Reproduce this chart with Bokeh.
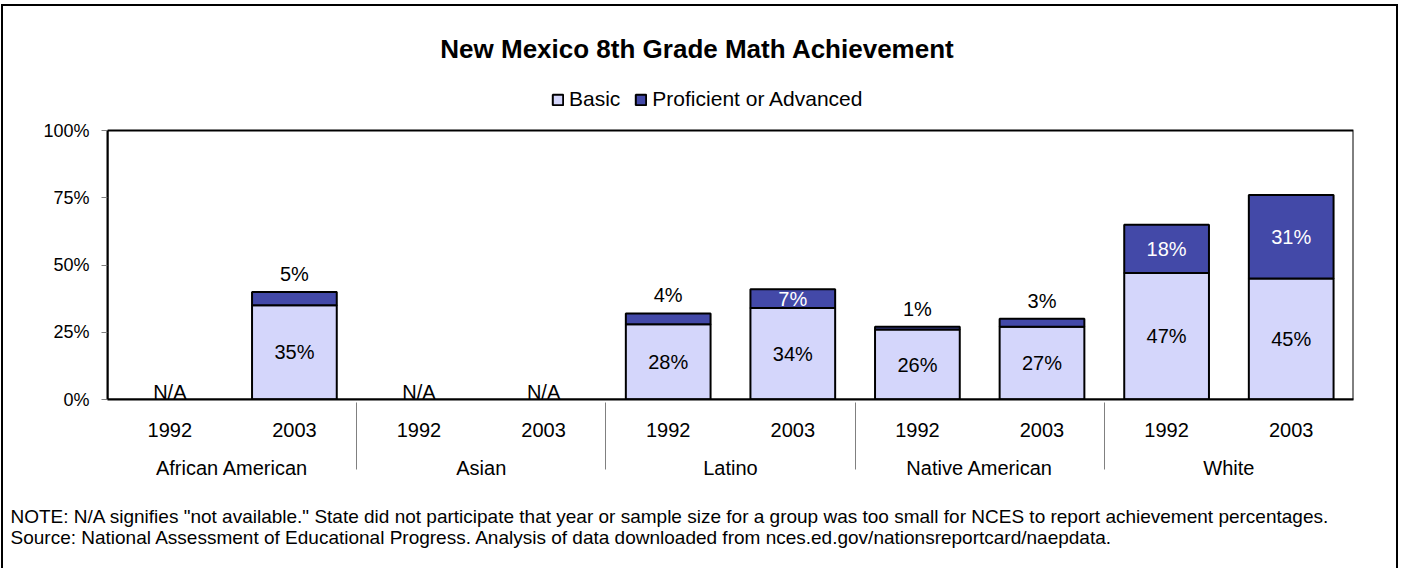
import math
from bokeh.plotting import figure
from bokeh.models import (ColumnDataSource, FactorRange, FixedTicker, Legend, LegendItem, Label,
                          Range1d, Title, BoxAnnotation)
from bokeh.embed import file_html
from bokeh.resources import INLINE
from bokeh.core.properties import value

# ---------------- data ----------------
groups = ["African American", "Asian", "Latino", "Native American", "White"]
years = ["1992", "2003"]
basic = [None, 35, None, None, 28, 34, 26, 27, 47, 45]
proficient = [None, 5, None, None, 4, 7, 1, 3, 18, 31]
series_names = ["Basic", "Proficient or Advanced"]
series_colors = ["#D4D6FB", "#4349A8"]
y_ticks = [0, 25, 50, 75, 100]
y_tick_labels = ["0%", "25%", "50%", "75%", "100%"]
title_text = "New Mexico 8th Grade Math Achievement"
na_text = "N/A"
notes = [
    'NOTE:  N/A signifies "not available."  State did not participate that year or sample size for a group was too small for NCES to report achievement percentages.',
    "Source:  National Assessment of Educational Progress.  Analysis of data downloaded from nces.ed.gov/nationsreportcard/naepdata.",
]

FONT = "Liberation Sans"
factors = [(g, y) for g in groups for y in years]

def num(v):
    return float("nan") if v is None else float(v)

src = ColumnDataSource(dict(
    x=factors,
    basic=[num(v) for v in basic],
    prof=[num(v) for v in proficient],
))

# layout (pixels)
W, H = 1397, 564
LEFT, FW = 104, 1246        # frame left / width
PLOT_H = 269                # pixel height of the 0..100% plot box
FT = 393                    # frame height (plot box + title/legend area above it)
y_max = y_ticks[-1]

p = figure(
    width=W, height=H,
    x_range=FactorRange(*factors, range_padding=0, factor_padding=0, group_padding=0),
    y_range=Range1d(0, y_max * FT / PLOT_H),
    output_backend="svg", toolbar_location=None,
    min_border_left=LEFT, min_border_right=W - LEFT - FW, min_border_top=0,
    min_border_bottom=H - FT,
)
p.styles = {"border-top": "2px solid black", "border-left": "2px solid black",
            "border-right": "2px solid black", "margin-left": "1px", "margin-top": "4px"}
p.background_fill_color = "white"
p.border_fill_color = "white"
p.outline_line_color = None
p.grid.visible = False

# plot box
p.add_layout(BoxAnnotation(bottom=0, top=y_max, fill_alpha=0, line_color="black",
                           line_alpha=1, line_width=2))

rs = p.vbar_stack(["basic", "prof"], x="x", width=0.68, source=src,
                  fill_color=series_colors, line_color="black", line_width=2)

# ---------------- labels ----------------
bx, by, bt = [], [], []
wx, wy, wt = [], [], []
ax, ay, at = [], [], []
nx = []
for f, b, pr in zip(factors, basic, proficient):
    if b is None:
        nx.append(f)
        continue
    bx.append(f); by.append(b / 2); bt.append(f"{b}%")
    if pr >= 7:
        wx.append(f); wy.append(b + pr / 2); wt.append(f"{pr}%")
    else:
        ax.append(f); ay.append(b + pr); at.append(f"{pr}%")

LBL = "20px"
common = dict(text_font=value(FONT), text_font_size=LBL, text_align="center", text_baseline="middle")
p.text(x=bx, y=by, text=bt, text_color="black", **common)
p.text(x=wx, y=wy, text=wt, text_color="white", **common)
p.text(x=ax, y=ay, text=at, text_color="black", y_offset=-18, **common)
p.text(x=nx, y=[0] * len(nx), text=[na_text] * len(nx), text_color="black",
       text_font=value(FONT), text_font_size=LBL, text_align="center", text_baseline="bottom",
       y_offset=3)

# ---------------- axes ----------------
ya = p.yaxis[0]
ya.ticker = FixedTicker(ticks=y_ticks)
ya.bounds = (y_ticks[0], y_max)
ya.major_label_overrides = {t: l for t, l in zip(y_ticks, y_tick_labels)}
ya.major_label_text_font = FONT
ya.major_label_text_font_size = "18px"
ya.major_label_text_color = "black"
ya.major_tick_in = 0
ya.major_tick_out = 6
ya.major_tick_line_color = "#808080"
ya.minor_tick_line_color = None
ya.axis_line_color = "black"
ya.axis_line_width = 2
ya.major_label_standoff = 12

xa = p.xaxis[0]
xa.major_label_text_font = FONT
xa.major_label_text_font_size = LBL
xa.major_label_text_color = "black"
xa.group_text_font = FONT
xa.group_text_font_size = LBL
xa.group_text_color = "black"
xa.group_text_font_style = "normal"
xa.major_tick_line_color = None
xa.axis_line_color = "black"
xa.axis_line_width = 2
xa.major_label_standoff = 17
xa.separator_line_color = "#808080"
xa.separator_line_width = 1

# ---------------- legend (inside the upper part of the frame) ----------------
legend = Legend(
    items=[LegendItem(label=n, renderers=[r]) for n, r in zip(series_names, rs)],
    orientation="horizontal", location=(444, PLOT_H + 19),
    label_text_font=FONT, label_text_font_size="21px", label_text_color="black",
    glyph_width=13, glyph_height=13, label_standoff=5, spacing=14,
    border_line_color=None, background_fill_alpha=0,
    padding=0, margin=0,
)
p.add_layout(legend)

# ---------------- title ----------------
p.add_layout(Label(x=590, y=PLOT_H + 82, x_units="screen", y_units="screen", text=title_text,
                   text_font=FONT, text_font_size="26px", text_font_style="bold",
                   text_align="center", text_baseline="middle", text_color="black"))

# ---------------- notes (below the axis) ----------------
p.add_layout(Title(text="\n".join(notes), align="left", offset=-97, text_font=FONT,
                   text_color="black", text_font_size="19px", text_font_style="normal",
                   text_line_height=1.0, standoff=45), "below")

open("out.html", "w").write(file_html(p, INLINE))
